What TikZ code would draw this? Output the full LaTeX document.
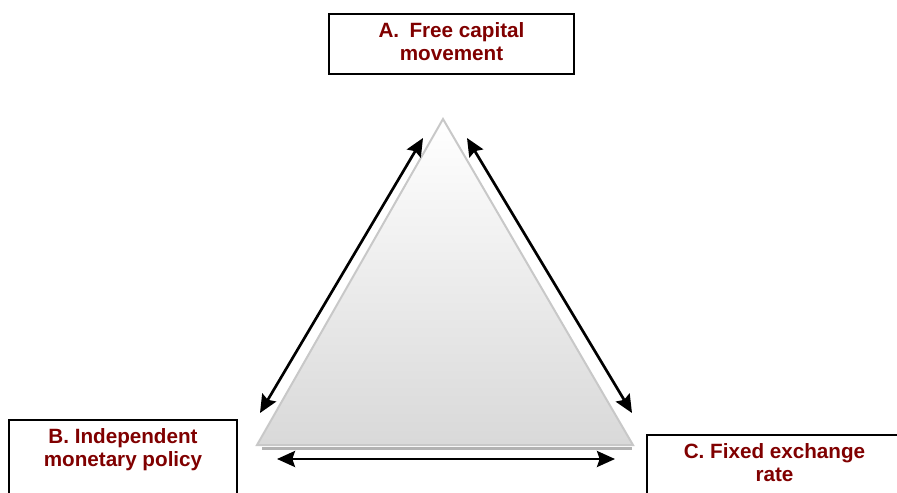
\documentclass[tikz,border=0pt]{standalone}
\usepackage{fontspec}
\setmainfont{Liberation Sans}
\usepackage{xcolor}
\usetikzlibrary{arrows.meta}
\definecolor{darkred}{RGB}{128, 0, 0}
\definecolor{edgegray}{RGB}{200, 200, 200}
\definecolor{shadowgray}{RGB}{178, 178, 178}

\begin{document}
\begin{tikzpicture}[x=0.75pt, y=-0.75pt,
    cornerbox/.style={draw, line width=1.5pt, anchor=north, align=center, text=darkred,
      font=\bfseries\fontsize{15.5}{17.5}\selectfont, inner ysep=6.5pt},
    tradeoff/.style={{Stealth[length=13.5pt, width=12pt, inset=2pt]}-{Stealth[length=13.5pt, width=12pt, inset=2pt]}, line width=2pt}]
          \useasboundingbox (0, 0) rectangle (897, 493);

          % Triangle
          \coordinate (apex) at (443, 119);
          \coordinate (baseL) at (257, 445);
          \coordinate (baseR) at (633, 445);
          \draw[shadowgray, line width=2.2pt] (262, 448.5) -- (632, 448.5);
          \shade[top color=white, bottom color=black!15] (apex) -- (baseL) -- (baseR) -- cycle;
          \draw[edgegray, line width=1.5pt, line join=miter] (apex) -- (baseL) -- (baseR) -- cycle;

          % Corners
          \node[cornerbox, minimum width=183.75pt, text depth=3pt] (capital) at (451.5, 13) {A.\enspace Free capital\\movement};
          \node[cornerbox, minimum width=171pt, text depth=13.5pt] (policy) at (123, 419) {B. Independent\\monetary policy};
          \node[cornerbox, minimum width=191.25pt, text depth=15pt] (exchange) at (774.5, 434) {C. Fixed exchange\\rate};

          % Arrow ends
          \coordinate (capL) at (423, 138);
          \coordinate (capR) at (467, 138);
          \coordinate (polT) at (260, 413);
          \coordinate (excT) at (632, 413);
          \coordinate (polB) at (277, 459);
          \coordinate (excB) at (615, 459);

          % Trade-offs
          \draw[tradeoff] (polT) -- (capL);
          \draw[tradeoff] (capR) -- (excT);
          \draw[tradeoff] (polB) -- (excB);
\end{tikzpicture}
\end{document}
